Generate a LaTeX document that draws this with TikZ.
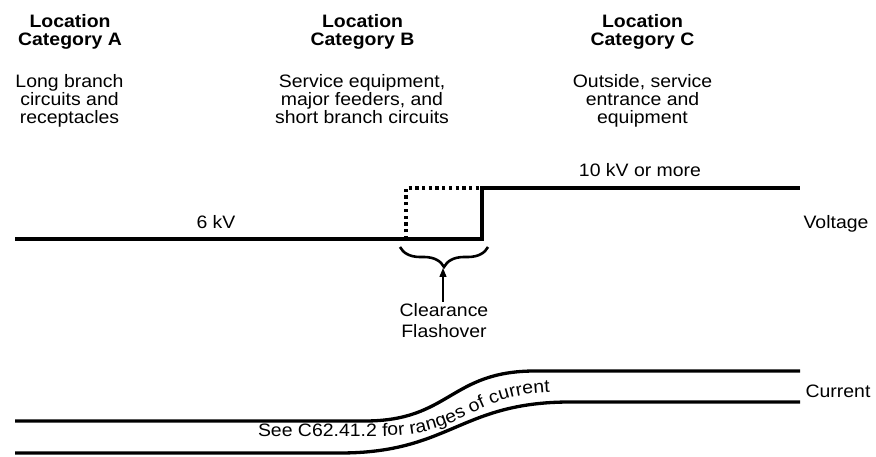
\documentclass[tikz,border=0pt]{standalone}
\usepackage{fontspec}
\setmainfont{Liberation Sans}[FakeStretch=1.08]
\usetikzlibrary{decorations.pathreplacing,decorations.text,arrows.meta}
\newcommand\txtsize{\fontsize{18}{18.3}\selectfont}
\tikzset{
  lbl/.style={font=\txtsize, inner sep=0pt, align=center},
  head/.style={lbl, font=\txtsize\bfseries},
  heavy/.style={line width=3.3pt, line join=miter},
  dotline/.style={line width=3.3pt, dash pattern=on 3.3pt off 3.4pt},
}
\begin{document}
\begin{tikzpicture}[x=1pt,y=-1pt]
\useasboundingbox (0,0) rectangle (876,457);
% headings
\node[head, anchor=north] (hA) at (70,14) {Location\\Category A};
\node[head, anchor=north] (hB) at (362.5,14) {Location\\Category B};
\node[head, anchor=north] (hC) at (642.5,14) {Location\\Category C};
% descriptions
\node[lbl, anchor=north] (dA) at (69.5,74) {Long branch\\circuits and\\receptacles};
\node[lbl, anchor=north] (dB) at (362,74) {Service equipment,\\major feeders, and\\short branch circuits};
\node[lbl, anchor=north] (dC) at (642.5,74) {Outside, service\\entrance and\\equipment};
% voltage
\coordinate (vL) at (15,239);
\coordinate (vS) at (482,239);
\coordinate (vT) at (482,188);
\coordinate (vR) at (800,188);
\coordinate (dL) at (406,239);
\coordinate (dT) at (406,188);
\draw[heavy] (vL) -- (vS) -- (vT) -- (vR);
\draw[dotline] (dL) -- (dT) -- (vT);
\node[lbl, anchor=base] (six) at (216,229) {6 kV};
\node[lbl, anchor=base] (ten) at (640,177) {10 kV or more};
\node[lbl, anchor=base] (volt) at (836,229) {Voltage};
% brace and arrow
\coordinate (bL) at (400,247);
\coordinate (bR) at (488,247);
\draw[line width=2.6pt, decorate, decoration={brace, amplitude=20pt, mirror}] (bL) -- (bR);
\node[lbl, anchor=north] (clr) at (444,303.5) {Clearance\\[2.7pt]Flashover};
\coordinate (aT) at (443,268);
\draw[line width=1.3pt, -{Triangle[length=9pt,width=7pt]}] (clr.north -| aT) ++(0,-1.5) -- (aT);
% current
\coordinate (cU1) at (15,421);
\coordinate (cU2) at (365,421);
\coordinate (cU3) at (535,371);
\coordinate (cU4) at (800,371);
\coordinate (cL1) at (15,453);
\coordinate (cL2) at (340,453);
\coordinate (cL3) at (570,402);
\coordinate (cL4) at (800,402);
\draw[heavy] (cU1) -- (cU2) .. controls (450,421) and (450,371) .. (cU3) -- (cU4);
\draw[heavy] (cL1) -- (cL2) .. controls (450,453) and (460,402) .. (cL3) -- (cL4);
\path[decorate, decoration={text along path, text align=left,
  text={|\txtsize|See C62.41.2 for ranges of current}}]
  (258,436) -- (380,436) .. controls (470,436) and (470,392) .. (560,392) -- (620,392);
\node[lbl, anchor=base] (cur) at (838,397) {Current};
\end{tikzpicture}
\end{document}
